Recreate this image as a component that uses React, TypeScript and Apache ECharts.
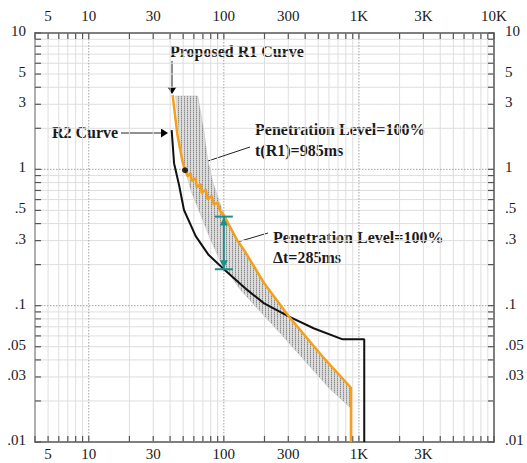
import React, { useEffect, useRef } from "react";
import * as echarts from "echarts";

const X_MIN = 4;
const X_MAX = 10000;
const Y_MIN = 0.01;
const Y_MAX = 10;

const xTopLabels = [5, 10, 30, 100, 300, 1000, 3000, 10000];
const xBottomLabels = [5, 10, 30, 100, 300, 1000, 3000];
const yLabels = [10, 5, 3, 1, 0.5, 0.3, 0.1, 0.05, 0.03, 0.01];

const xMinorGrid = [4, 5, 6, 7, 8, 9, 20, 30, 40, 50, 60, 70, 80, 90, 200, 300, 400, 500, 600, 700, 800, 900, 2000, 3000, 4000, 5000, 6000, 7000, 8000, 9000];
const xMajorGrid = [10, 100, 1000];
const yMinorGrid = [0.02, 0.03, 0.04, 0.05, 0.06, 0.07, 0.08, 0.09, 0.2, 0.3, 0.4, 0.5, 0.6, 0.7, 0.8, 0.9, 2, 3, 4, 5, 6, 7, 8, 9];
const yMajorGrid = [0.1, 1];
const xTicks = [4, 5, 6, 7, 8, 9, 10, 20, 30, 40, 50, 60, 70, 80, 90, 100, 200, 300, 400, 500, 600, 700, 800, 900, 1000, 2000, 3000, 4000, 5000, 6000, 7000, 8000, 9000, 10000];
const yTicks = [0.01, 0.02, 0.03, 0.04, 0.05, 0.06, 0.07, 0.08, 0.09, 0.1, 0.2, 0.3, 0.4, 0.5, 0.6, 0.7, 0.8, 0.9, 1, 2, 3, 4, 5, 6, 7, 8, 9, 10];

// Proposed R1 curve (current multiple, time s)
const r1Curve = [
  [41.8, 3.5], [45.3, 1.8], [49.4, 1.14], [51.6, 0.985],
  [54, 0.89], [56.8, 0.94], [57.8, 0.82], [61.9, 0.86], [63, 0.74], [67.5, 0.78],
  [68.6, 0.67], [73.5, 0.71], [76, 0.6], [81.4, 0.64], [84.2, 0.55], [90.2, 0.57],
  [93.3, 0.5], [100.7, 0.454],
  [126, 0.3], [141, 0.256], [199, 0.146], [304, 0.083], [553, 0.041], [873, 0.025], [873, 0.01],
];

// R2 curve
const r2Curve = [
  [41.1, 1.94], [42.8, 1.11], [46.6, 0.767], [50.7, 0.503], [61.9, 0.324], [77.3, 0.235],
  [101.6, 0.1825], [149.6, 0.13], [198.6, 0.104], [304, 0.083], [466, 0.068], [758, 0.0566],
  [1095, 0.0566], [1095, 0.01],
];

// tolerance band boundaries
const bandRight = [
  [64.1, 3.45], [71.0, 1.94], [76.0, 1.17], [82.8, 0.807], [91.7, 0.595], [101.6, 0.454],
  [126.9, 0.303], [141.2, 0.256], [198.6, 0.146], [304, 0.083], [553, 0.0413], [873, 0.0253],
];
const bandLeft = [
  [44.0, 3.45], [46.3, 1.94], [49.6, 1.17], [56.8, 0.705], [67.5, 0.462], [80.0, 0.303],
  [94.9, 0.209], [133.5, 0.13], [187.8, 0.0897], [273, 0.0598], [405, 0.0386], [600, 0.0249],
  [873, 0.0177],
];
const bandPolygon = [...bandRight, ...bandLeft.slice().reverse()];

const r1Point = [[51.6, 0.985]];
const deltaMarker = [[100, 0.45, 0.185]];

const SERIF = "'Liberation Serif', 'Times New Roman', serif";

const fmtX = (v: number) => (v >= 1000 ? `${v / 1000}K` : String(v));
const fmtY = (v: number) => (v < 1 ? String(v).slice(1) : String(v));

function textEl(x: number, y: number, text: string, align: string, vAlign: string, size = 15, weight = "normal") {
  return {
    type: "text",
    x,
    y,
    silent: true,
    style: {
      text,
      fill: "#1a1a1a",
      fontSize: size,
      fontWeight: weight,
      fontFamily: SERIF,
      align,
      verticalAlign: vAlign,
      textAlign: align,
      textVerticalAlign: vAlign,
    },
  };
}

function makeStipple(): any {
  try {
    const c = document.createElement("canvas");
    c.width = 3;
    c.height = 2;
    const ctx = c.getContext("2d");
    if (!ctx) return "#cbcbcb";
    ctx.fillStyle = "#dcdcdc";
    ctx.fillRect(0, 0, 3, 2);
    ctx.fillStyle = "#8a8a8a";
    ctx.fillRect(1, 0, 1, 1);
    ctx.fillStyle = "#b8b8b8";
    ctx.fillRect(1, 1, 1, 1);
    return { image: c.toDataURL(), repeat: "repeat", imageWidth: 3, imageHeight: 2 };
  } catch (e) {
    return "#cbcbcb";
  }
}

export default function App() {
  const ref = useRef<HTMLDivElement>(null);
  useEffect(() => {
    const chart = echarts.init(ref.current!, undefined, { renderer: "svg" });
    const stipple = makeStipple();
    const axisBase = {
      type: "log",
      logBase: 10,
      axisLabel: { show: false },
      axisTick: { show: false },
      splitLine: { show: false },
      minorTick: { show: false },
      minorSplitLine: { show: false },
      axisLine: { show: true, onZero: false, lineStyle: { color: "#555", width: 1.5 } },
    };
    const option: any = {
      animation: false,
      backgroundColor: "#fff",
      grid: { left: 35, right: 33, top: 33, bottom: 21, containLabel: false, outerBoundsMode: "none" },
      xAxis: [
        { ...axisBase, min: X_MIN, max: X_MAX, position: "bottom" },
        { ...axisBase, min: X_MIN, max: X_MAX, position: "top" },
      ],
      yAxis: [
        { ...axisBase, min: Y_MIN, max: Y_MAX, position: "left" },
        { ...axisBase, min: Y_MIN, max: Y_MAX, position: "right" },
      ],
      series: [
        {
          type: "custom",
          name: "xMinor",
          clip: false,
          silent: true,
          data: xMinorGrid.map((v) => [v, 1]),
          renderItem: (p: any, api: any) => {
            const v = api.value(0);
            const a = api.coord([v, Y_MAX]);
            const b = api.coord([v, Y_MIN]);
            return { type: "line", shape: { x1: a[0], y1: a[1], x2: b[0], y2: b[1] }, style: { stroke: "#dedede", lineWidth: 1 } };
          },
          z: 1,
        },
        {
          type: "custom",
          name: "yMinor",
          clip: false,
          silent: true,
          data: yMinorGrid.map((v) => [10, v]),
          renderItem: (p: any, api: any) => {
            const v = api.value(1);
            const a = api.coord([X_MIN, v]);
            const b = api.coord([X_MAX, v]);
            return { type: "line", shape: { x1: a[0], y1: a[1], x2: b[0], y2: b[1] }, style: { stroke: "#dedede", lineWidth: 1 } };
          },
          z: 1,
        },
        {
          type: "custom",
          name: "xMajor",
          clip: false,
          silent: true,
          data: xMajorGrid.map((v) => [v, 1]),
          renderItem: (p: any, api: any) => {
            const v = api.value(0);
            const a = api.coord([v, Y_MAX]);
            const b = api.coord([v, Y_MIN]);
            return { type: "line", shape: { x1: a[0], y1: a[1], x2: b[0], y2: b[1] }, style: { stroke: "#a0a0a0", lineWidth: 1, lineDash: [1.5, 1.5] } };
          },
          z: 2,
        },
        {
          type: "custom",
          name: "yMajor",
          clip: false,
          silent: true,
          data: yMajorGrid.map((v) => [10, v]),
          renderItem: (p: any, api: any) => {
            const v = api.value(1);
            const a = api.coord([X_MIN, v]);
            const b = api.coord([X_MAX, v]);
            return { type: "line", shape: { x1: a[0], y1: a[1], x2: b[0], y2: b[1] }, style: { stroke: "#a0a0a0", lineWidth: 1, lineDash: [1.5, 1.5] } };
          },
          z: 2,
        },
        {
          type: "custom",
          name: "xTicks",
          clip: false,
          silent: true,
          data: xTicks.map((v) => [v, 1]),
          renderItem: (p: any, api: any) => {
            const v = api.value(0);
            const a = api.coord([v, Y_MAX]);
            const b = api.coord([v, Y_MIN]);
            const st = { stroke: "#555", lineWidth: 1.2 };
            return {
              type: "group",
              children: [
                { type: "line", shape: { x1: a[0], y1: a[1], x2: a[0], y2: a[1] + 6 }, style: st },
                { type: "line", shape: { x1: b[0], y1: b[1], x2: b[0], y2: b[1] - 6 }, style: st },
              ],
            };
          },
          z: 5,
        },
        {
          type: "custom",
          name: "yTicks",
          clip: false,
          silent: true,
          data: yTicks.map((v) => [10, v]),
          renderItem: (p: any, api: any) => {
            const v = api.value(1);
            const a = api.coord([X_MIN, v]);
            const b = api.coord([X_MAX, v]);
            const st = { stroke: "#555", lineWidth: 1.2 };
            return {
              type: "group",
              children: [
                { type: "line", shape: { x1: a[0], y1: a[1], x2: a[0] + 6, y2: a[1] }, style: st },
                { type: "line", shape: { x1: b[0], y1: b[1], x2: b[0] - 6, y2: b[1] }, style: st },
              ],
            };
          },
          z: 5,
        },
        {
          type: "custom",
          name: "xTopLabels",
          clip: false,
          silent: true,
          data: xTopLabels.map((v) => [v, 1]),
          renderItem: (p: any, api: any) => {
            const v = api.value(0);
            const a = api.coord([v, Y_MAX]);
            return textEl(a[0], a[1] - 17, fmtX(v), "center", "middle");
          },
        },
        {
          type: "custom",
          name: "xBottomLabels",
          clip: false,
          silent: true,
          data: xBottomLabels.map((v) => [v, 1]),
          renderItem: (p: any, api: any) => {
            const v = api.value(0);
            const a = api.coord([v, Y_MIN]);
            return textEl(a[0], a[1] + 12, fmtX(v), "center", "middle");
          },
        },
        {
          type: "custom",
          name: "yLeftLabels",
          clip: false,
          silent: true,
          data: yLabels.map((v) => [10, v]),
          renderItem: (p: any, api: any) => {
            const v = api.value(1);
            const a = api.coord([X_MIN, v]);
            return textEl(a[0] - 9, a[1] - 2, fmtY(v), "right", "middle");
          },
        },
        {
          type: "custom",
          name: "yRightLabels",
          clip: false,
          silent: true,
          data: yLabels.map((v) => [10, v]),
          renderItem: (p: any, api: any) => {
            const v = api.value(1);
            const a = api.coord([X_MAX, v]);
            return textEl(a[0] + 11, a[1] - 2, fmtY(v), "left", "middle");
          },
        },
        {
          type: "custom",
          name: "band",
          clip: true,
          silent: true,
          data: bandPolygon,
          renderItem: (p: any, api: any) => {
            if (p.dataIndex !== 0) return null;
            return {
              type: "polygon",
              shape: { points: bandPolygon.map((pt) => api.coord(pt)) },
              style: { fill: stipple, stroke: "#bdbdbd", lineWidth: 0.5 },
            };
          },
          z: 6,
        },
        {
          type: "line",
          name: "R2 Curve",
          data: r2Curve,
          showSymbol: false,
          symbol: "none",
          lineStyle: { color: "#111", width: 2 },
          z: 7,
        },
        {
          type: "line",
          name: "Proposed R1 Curve",
          data: r1Curve,
          showSymbol: false,
          symbol: "none",
          lineStyle: { color: "#f6a01a", width: 2.5 },
          z: 8,
        },
        {
          type: "scatter",
          name: "t(R1)",
          data: r1Point,
          symbol: "circle",
          symbolSize: 6,
          itemStyle: { color: "#000" },
          z: 9,
        },
        {
          type: "custom",
          name: "delta",
          clip: false,
          silent: true,
          data: deltaMarker,
          encode: { x: 0, y: [1, 2] },
          renderItem: (p: any, api: any) => {
            const x = api.value(0);
            const t = api.coord([x, api.value(1)]);
            const b = api.coord([x, api.value(2)]);
            const c = "#1d8f8a";
            const st = { stroke: c, lineWidth: 2 };
            return {
              type: "group",
              children: [
                { type: "line", shape: { x1: t[0], y1: t[1], x2: b[0], y2: b[1] }, style: st },
                { type: "line", shape: { x1: t[0] - 9, y1: t[1], x2: t[0] + 9, y2: t[1] }, style: st },
                { type: "line", shape: { x1: b[0] - 9, y1: b[1], x2: b[0] + 9, y2: b[1] }, style: st },
                { type: "polygon", shape: { points: [[t[0], t[1] + 1], [t[0] - 4, t[1] + 9], [t[0] + 4, t[1] + 9]] }, style: { fill: c } },
                { type: "polygon", shape: { points: [[b[0], b[1] - 1], [b[0] - 4, b[1] - 9], [b[0] + 4, b[1] - 9]] }, style: { fill: c } },
              ],
            };
          },
          z: 10,
        },
      ],
      graphic: [
        textEl(170, 51, "Proposed R1 Curve", "left", "middle", 16, "bold"),
        { type: "line", shape: { x1: 172, y1: 61, x2: 172, y2: 88 }, style: { stroke: "#222", lineWidth: 1 } },
        { type: "polygon", shape: { points: [[167.5, 87], [176.5, 87], [172, 94]] }, style: { fill: "#000" } },
        textEl(52, 132, "R2 Curve", "left", "middle", 16, "bold"),
        { type: "line", shape: { x1: 121, y1: 133, x2: 162, y2: 133 }, style: { stroke: "#222", lineWidth: 1 } },
        { type: "polygon", shape: { points: [[161, 128.5], [161, 137.5], [168, 133]] }, style: { fill: "#000" } },
        textEl(255, 129, "Penetration Level=100%", "left", "middle", 16, "bold"),
        textEl(255, 150, "t(R1)=985ms", "left", "middle", 16, "bold"),
        { type: "line", shape: { x1: 250, y1: 147, x2: 196, y2: 165 }, style: { stroke: "#222", lineWidth: 1 } },
        { type: "polygon", shape: { points: [[189, 167], [197.7, 167.8], [195.5, 161.2]] }, style: { fill: "#000" } },
        textEl(273, 237, "Penetration Level=100%", "left", "middle", 16, "bold"),
        textEl(273, 257, "Δt=285ms", "left", "middle", 16, "bold"),
        { type: "line", shape: { x1: 268, y1: 233, x2: 234, y2: 243 }, style: { stroke: "#222", lineWidth: 1 } },
        { type: "polygon", shape: { points: [[227, 245], [235.7, 246.1], [233.7, 239.4]] }, style: { fill: "#000" } },
      ],
    };
    chart.setOption(option);
    return () => chart.dispose();
  }, []);
  return <div ref={ref} style={{ position: "fixed", left: 0, top: 0, width: 527, height: 463, background: "#fff" }} />;
}
